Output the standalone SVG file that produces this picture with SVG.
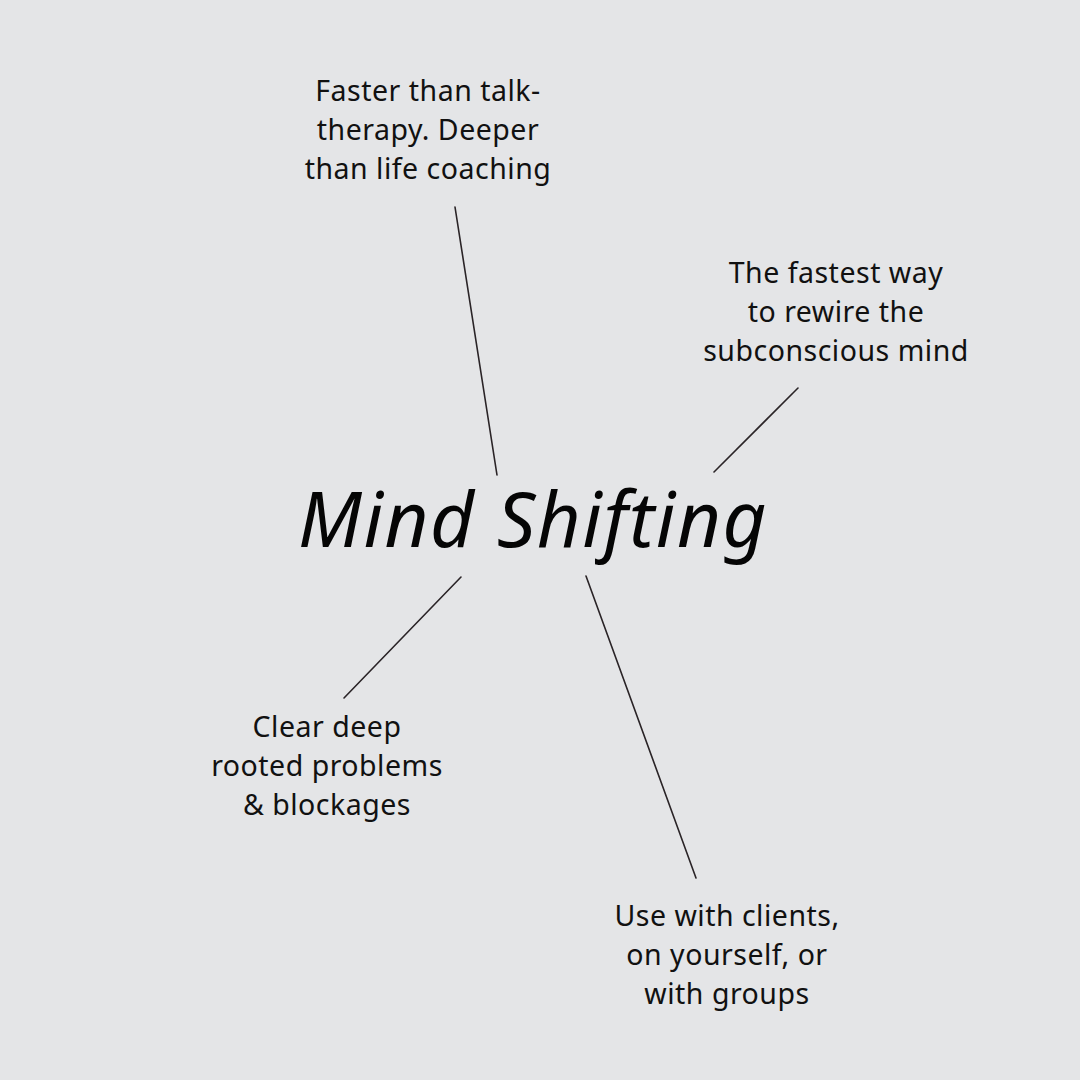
<svg xmlns="http://www.w3.org/2000/svg" width="1080" height="1080" viewBox="0 0 1080 1080">
<style>
.t{font-family:"Noto Sans","Open Sans",sans-serif;font-size:28.5px;letter-spacing:0.5px;fill:#111;text-anchor:middle}
.title{font-family:"Noto Sans","Open Sans",sans-serif;font-style:italic;font-size:76px;letter-spacing:1.5px;fill:#050505;text-anchor:middle}
.c{stroke:#2a2427;stroke-width:1.6;fill:none;stroke-linecap:round}
</style>
<rect width="1080" height="1080" fill="#e4e5e7"/>
<g id="connectors">
<line class="c" x1="455" y1="207" x2="497" y2="475"/>
<line class="c" x1="798" y1="388" x2="714" y2="472"/>
<line class="c" x1="461" y1="577" x2="344" y2="698"/>
<line class="c" x1="586" y1="576" x2="696" y2="878"/>
</g>
<g id="center"><text class="title" x="533" y="547">Mind Shifting</text></g>
<g id="top"><text class="t" x="428"><tspan x="428" y="101">Faster than talk-</tspan><tspan x="428" y="140">therapy. Deeper</tspan><tspan x="428" y="179">than life coaching</tspan></text></g>
<g id="right"><text class="t" x="836"><tspan x="836" y="283">The fastest way</tspan><tspan x="836" y="322">to rewire the</tspan><tspan x="836" y="361">subconscious mind</tspan></text></g>
<g id="left"><text class="t" x="327"><tspan x="327" y="737">Clear deep</tspan><tspan x="327" y="776">rooted problems</tspan><tspan x="327" y="815">&amp; blockages</tspan></text></g>
<g id="bottom"><text class="t" x="727"><tspan x="727" y="926">Use with clients,</tspan><tspan x="727" y="965">on yourself, or</tspan><tspan x="727" y="1004">with groups</tspan></text></g>
</svg>
